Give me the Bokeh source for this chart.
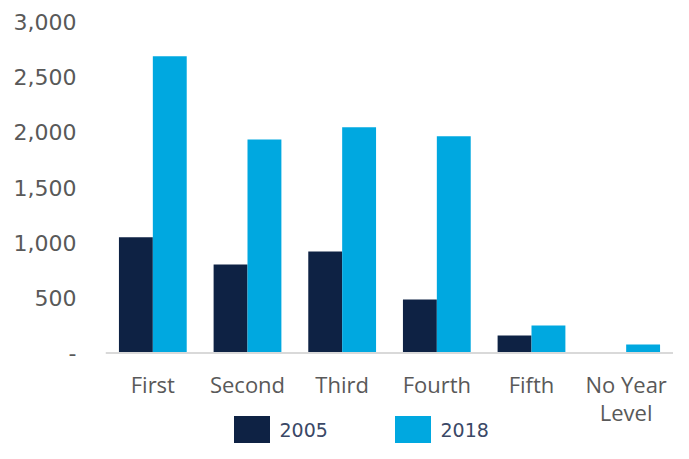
from bokeh.plotting import figure
from bokeh.models import ColumnDataSource, FactorRange, FixedTicker, Legend, LegendItem, Span, Range1d
from bokeh.core.properties import value
from bokeh.transform import dodge
from bokeh.embed import file_html
from bokeh.resources import INLINE

categories = ["First", "Second", "Third", "Fourth", "Fifth", "No Year\nLevel"]
series_2005 = [1050, 802, 920, 485, 159, 2]
series_2018 = [2690, 1935, 2047, 1965, 249, 77]
y_ticks = [0, 500, 1000, 1500, 2000, 2500, 3000]
y_tick_labels = ["-", "500", "1,000", "1,500", "2,000", "2,500", "3,000"]

src = ColumnDataSource(dict(cat=categories, y2005=series_2005, y2018=series_2018))

p = figure(width=673, height=443, output_backend="svg", toolbar_location=None,
           x_range=FactorRange(*categories, range_padding=0), y_range=Range1d(-820, 3195),
           x_axis_location=None,
           min_border_top=0, min_border_right=0, min_border_left=105, min_border_bottom=0)
p.outline_line_color = None
p.grid.visible = False
p.background_fill_color = "white"

navy = "#0E2244"
blue = "#00A8E0"
r1 = p.vbar(x=dodge("cat", -0.179, range=p.x_range), top="y2005", width=0.358, source=src,
            fill_color=navy, line_color=None)
r2 = p.vbar(x=dodge("cat", 0.179, range=p.x_range), top="y2018", width=0.358, source=src,
            fill_color=blue, line_color=None)

# baseline (category axis line)
p.add_layout(Span(location=0, dimension="width", line_color="#D9D9D9", line_width=2))

# category labels
p.text(x="cat", y=0, text="cat", source=src, text_font=value("Open Sans"),
       text_font_size=value("22px"), text_align="center", text_baseline="top",
       y_offset=16, text_line_height=0.92, text_color="#595959")

yax = p.yaxis[0]
yax.ticker = FixedTicker(ticks=y_ticks)
yax.major_label_overrides = {t: l for t, l in zip(y_ticks, y_tick_labels)}
yax.axis_line_color = None
yax.major_tick_line_color = None
yax.minor_tick_line_color = None
yax.major_tick_out = 0
yax.major_tick_in = 0
yax.minor_tick_out = 0
yax.major_label_standoff = 29
yax.major_label_text_font = "DejaVu Sans"
yax.major_label_text_font_size = "22px"
yax.major_label_text_color = "#595959"

legend = Legend(items=[LegendItem(label="2005", renderers=[r1]), LegendItem(label="2018", renderers=[r2])],
                orientation="horizontal", location=(123.5, -4),
                glyph_width=45, glyph_height=35, label_standoff=6, label_width=110, spacing=0,
                padding=0, margin=0, border_line_color=None, background_fill_alpha=0,
                label_text_font="DejaVu Sans", label_text_font_size="19px", label_text_color="#3A4866")
p.add_layout(legend, "center")

open("out.html", "w").write(file_html(p, INLINE))
